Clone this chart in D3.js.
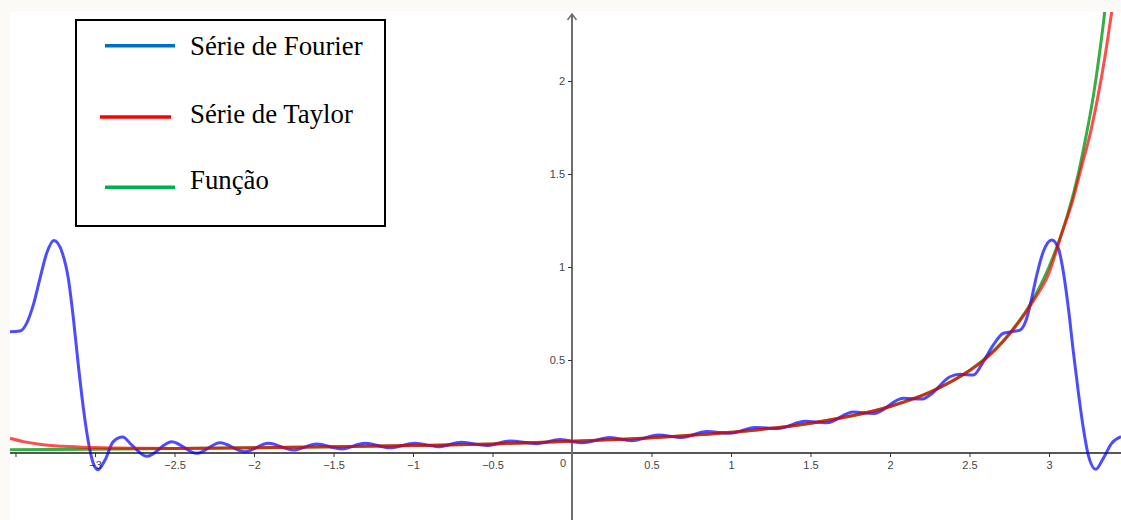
<!DOCTYPE html>
<html>
<head>
<meta charset="utf-8">
<script src="https://cdn.jsdelivr.net/npm/d3@7"></script>
<style>
  html, body { margin: 0; padding: 0; background: #fcfaf7; }
  svg { display: block; }
</style>
</head>
<body>
<div id="chart"></div>
<script>
// ---- data ----
const seriesNames = ["Série de Fourier", "Série de Taylor", "Função"];

const fourierX = [-3.535,-3.472,-3.430,-3.388,-3.346,-3.304,-3.258,-3.205,-3.168,-3.136,-3.105,-3.073,-3.042,-3.011,-2.982,-2.937,-2.885,-2.826,-2.769,-2.675,
  -2.518,-2.360,-2.214,-2.057,-1.910,-1.753,-1.606,-1.448,-1.302,-1.145,-0.987,-0.843,-0.694,-0.536,-0.390,-0.222,-0.075,
  0.069,0.239,0.375,0.543,0.690,0.847,0.994,1.151,1.297,1.465,1.602,1.769,1.895,2.084,2.199,2.252,2.377,2.440,2.524,2.587,
  2.650,2.713,2.765,2.818,2.860,2.891,2.923,2.964,3.017,3.059,3.090,3.122,3.153,3.184,3.216,3.247,3.294,3.341,3.394,3.453];
const fourierY = [0.652,0.656,0.697,0.796,0.939,1.074,1.142,1.074,0.939,0.724,0.473,0.240,0.061,-0.055,-0.090,-0.038,0.061,0.086,0.043,-0.018,
  0.061,-0.002,0.055,0.007,0.052,0.016,0.048,0.022,0.052,0.028,0.053,0.034,0.058,0.040,0.065,0.050,0.072,
  0.055,0.084,0.066,0.097,0.084,0.115,0.106,0.137,0.132,0.171,0.163,0.220,0.212,0.294,0.290,0.312,0.410,0.423,0.419,0.491,
  0.581,0.644,0.652,0.661,0.724,0.832,0.957,1.082,1.145,1.100,0.975,0.778,0.545,0.330,0.133,-0.011,-0.087,-0.029,0.052,0.088];

const taylorX = [-3.535,-3.45,-3.35,-3.2,-3.0,-2.7,-2.5,-2.0,-1.5,-1.0,-0.5,0,0.5,1.0,1.5,2.0,2.25,2.5,2.6,2.75,2.9,3.0,3.08,3.15,3.205,3.26,3.304,3.35,3.394,3.44];
const taylorY = [0.079,0.061,0.047,0.036,0.029,0.025,0.024,0.028,0.033,0.040,0.049,0.063,0.082,0.111,0.160,0.250,0.326,0.443,0.505,0.638,0.815,0.968,1.18,1.36,1.54,1.72,1.90,2.12,2.37,2.64];

const funcX = [-3.535,-3.0,-2.5,-2.0,-1.5,-1.0,-0.5,0,0.5,1.0,1.5,2.0,2.25,2.5,2.6,2.75,2.9,3.0,3.063,3.12,3.184,3.23,3.279,3.31,3.342,3.37];
const funcY = [0.017,0.020,0.024,0.028,0.033,0.040,0.049,0.063,0.082,0.111,0.160,0.250,0.327,0.444,0.510,0.640,0.826,1.0,1.14,1.29,1.50,1.69,1.92,2.10,2.31,2.52];

const xTicks = [-3.5,-3,-2.5,-2,-1.5,-1,-0.5,0,0.5,1,1.5,2,2.5,3];
const yTicks = [0.5,1,1.5,2];

// ---- layout ----
const W = 1121, H = 520;
const plot = {left: 10, top: 12, right: 1121, bottom: 520};

const svg = d3.select("#chart").append("svg").attr("width", W).attr("height", H);

const x = d3.scaleLinear().domain([-3.5, 3]).range([15.5, 1049]);
const y = d3.scaleLinear().domain([0, 2]).range([453, 81]);

svg.append("rect").attr("x", plot.left).attr("y", plot.top)
  .attr("width", plot.right - plot.left).attr("height", plot.bottom - plot.top)
  .attr("fill", "#ffffff");

svg.append("clipPath").attr("id", "clip").append("rect")
  .attr("x", plot.left).attr("y", plot.top)
  .attr("width", plot.right - plot.left).attr("height", plot.bottom - plot.top);

// axes lines
svg.append("line").attr("x1", plot.left).attr("x2", plot.right)
  .attr("y1", y(0)).attr("y2", y(0)).attr("stroke", "#1e1e1e").attr("stroke-width", 1.5);
svg.append("line").attr("x1", x(0)).attr("x2", x(0))
  .attr("y1", 14).attr("y2", H).attr("stroke", "#6e6e6e").attr("stroke-width", 2);
svg.append("path").attr("d", `M${x(0)-4.5},${20} L${x(0)},${14} L${x(0)+4.5},${20}`)
  .attr("fill", "none").attr("stroke", "#6e6e6e").attr("stroke-width", 1.5);

const fmt = d => String(d).replace("-", "\u2212");

const xAxis = d3.axisBottom(x).tickValues(xTicks.filter(d => d !== 0)).tickSize(4).tickPadding(4)
  .tickFormat(d => d === -3.5 ? "" : fmt(d));
const gx = svg.append("g").attr("transform", `translate(0,${y(0)})`).call(xAxis);
gx.select(".domain").remove();
gx.selectAll(".tick line").attr("stroke", "#333").attr("stroke-width", 1);
gx.selectAll(".tick text").attr("fill", "#444").style("font-family", "'Liberation Sans', Arial, sans-serif").style("font-size", "11px");

const yAxis = d3.axisLeft(y).tickValues(yTicks).tickSize(4).tickPadding(3).tickFormat(fmt);
const gy = svg.append("g").attr("transform", `translate(${x(0)},0)`).call(yAxis);
gy.select(".domain").remove();
gy.selectAll(".tick line").attr("stroke", "#333").attr("stroke-width", 1);
gy.selectAll(".tick text").attr("fill", "#444").style("font-family", "'Liberation Sans', Arial, sans-serif").style("font-size", "11px");

svg.append("text").attr("x", x(0) - 6).attr("y", y(0) + 14).attr("text-anchor", "end")
  .attr("fill", "#444").style("font-family", "'Liberation Sans', Arial, sans-serif").style("font-size", "11px")
  .text("0");

// curves
const line = d3.line().x(d => x(d[0])).y(d => y(d[1])).curve(d3.curveMonotoneX);
const zip = (a, b) => a.map((v, i) => [v, b[i]]);
const curves = svg.append("g").attr("clip-path", "url(#clip)");

curves.append("path").datum(zip(funcX, funcY)).attr("d", line)
  .attr("fill", "none").attr("stroke", "#22a52d").attr("stroke-opacity", 0.9).attr("stroke-width", 3);
curves.append("path").datum(zip(fourierX, fourierY)).attr("d", line)
  .attr("fill", "none").attr("stroke", "#0000ff").attr("stroke-opacity", 0.7).attr("stroke-width", 3);
curves.append("path").datum(zip(taylorX, taylorY)).attr("d", line)
  .attr("fill", "none").attr("stroke", "#ff0000").attr("stroke-opacity", 0.7).attr("stroke-width", 3);

// legend
const legend = svg.append("g");
legend.append("rect").attr("x", 76).attr("y", 20).attr("width", 309).attr("height", 206)
  .attr("fill", "#ffffff").attr("stroke", "#000").attr("stroke-width", 2);
const legendColors = ["#0070C0", "#FF0000", "#00B050"];
const legendLineX = [[105, 175], [100, 171], [105, 175]];
const legendLineY = [45.7, 117, 187.3];
const legendTextY = [55, 122.5, 189];
seriesNames.forEach((name, i) => {
  legend.append("line").attr("x1", legendLineX[i][0]).attr("x2", legendLineX[i][1])
    .attr("y1", legendLineY[i]).attr("y2", legendLineY[i])
    .attr("stroke", legendColors[i]).attr("stroke-width", 3.5);
  legend.append("text").attr("x", 190).attr("y", legendTextY[i])
    .style("font-family", "'Liberation Serif', 'Times New Roman', serif").style("font-size", "26.8px")
    .attr("fill", "#000").text(name);
});
</script>
</body>
</html>
